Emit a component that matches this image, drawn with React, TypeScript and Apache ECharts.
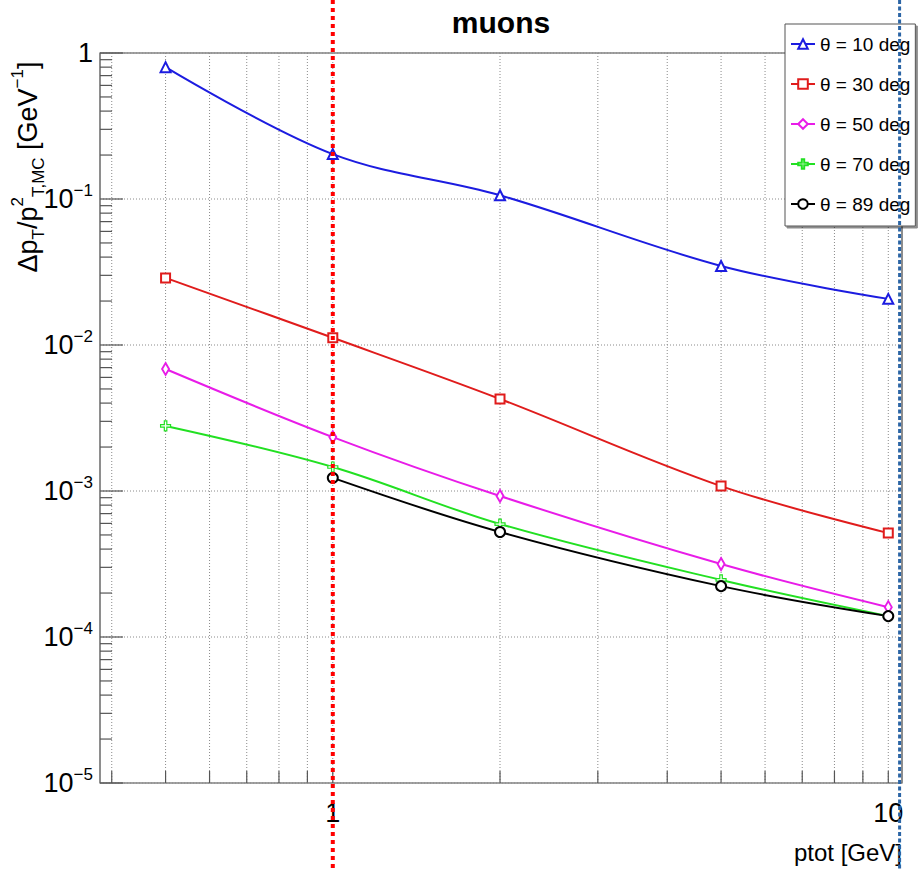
import React, { useEffect, useRef } from 'react';
import * as echarts from 'echarts';

// ---- data ----
const X_VALUES = [0.5, 1, 2, 5, 10];
const SERIES_NAMES = ['θ = 10 deg', 'θ = 30 deg', 'θ = 50 deg', 'θ = 70 deg', 'θ = 89 deg'];
const THETA10 = [0.8, 0.203, 0.106, 0.0348, 0.0207];
const THETA30 = [0.0288, 0.0112, 0.00427, 0.00108, 0.000515];
const THETA50 = [0.00685, 0.00234, 0.000924, 0.000316, 0.00016];
const THETA70 = [0.00279, 0.00146, 0.000594, 0.000246, 0.000139];
const THETA89 = [null, 0.00123, 0.000524, 0.000223, 0.000139];

const SERIES_COLORS = ['#1c1ce0', '#e01c1c', '#e81ce8', '#22e022', '#000000'];
const SERIES_SYMBOLS = [
  'emptyTriangle',
  'emptyRect',
  'emptyDiamond',
  'path://M3,0H5V3H8V5H5V8H3V5H0V3H3Z',
  'emptyCircle',
];
const SERIES_SYMBOL_SIZES: any[] = [10, 9, [7, 12], 10, 10];

// axes
const X_MIN = 0.381;
const X_MAX = 10.585;
const Y_MIN = 1e-5;
const Y_MAX = 1;
const X_TICKS = [0.4, 0.5, 0.6, 0.7, 0.8, 0.9, 1, 2, 3, 4, 5, 6, 7, 8, 9, 10];
const X_TICK_LABELS = ['1', '10'];
const Y_DECADES = [1e-5, 1e-4, 1e-3, 1e-2, 1e-1, 1];
const Y_MINOR_MULTIPLIERS = [2, 3, 4, 5, 6, 7, 8, 9];

// annotation marks (vertical dotted lines)
const RED_MARK_X = 1;
const BLUE_MARK_X = 10.48;

const FONT = "'Liberation Sans Narrow', 'Arial Narrow', 'Liberation Sans', Arial, sans-serif";

function pairs(ys: (number | null)[]) {
  const out: number[][] = [];
  ys.forEach((y, i) => {
    if (y !== null) out.push([X_VALUES[i], y]);
  });
  return out;
}

export default function App() {
  const ref = useRef<HTMLDivElement>(null);

  useEffect(() => {
    if (!ref.current) return;
    const chart = echarts.init(ref.current, null, { renderer: 'svg' });

    const allSeriesValues = [THETA10, THETA30, THETA50, THETA70, THETA89];
    const yTicks: number[] = [];
    Y_DECADES.forEach((d) => {
      yTicks.push(d);
      if (d < Y_MAX) Y_MINOR_MULTIPLIERS.forEach((m) => yTicks.push(d * m));
    });

    const lineSeries = allSeriesValues.map((vals, i) => {
      const c = SERIES_COLORS[i];
      const isPath = SERIES_SYMBOLS[i].startsWith('path://');
      return {
        name: SERIES_NAMES[i],
        type: 'line',
        data: pairs(vals),
        smooth: 0.35,
        symbol: SERIES_SYMBOLS[i],
        symbolSize: SERIES_SYMBOL_SIZES[i],
        showAllSymbol: true,
        lineStyle: { color: c, width: 2 },
        itemStyle: isPath
          ? { color: '#ffffff', borderColor: c, borderWidth: 1.2 }
          : { color: c, borderWidth: 1.2 },
        z: 5,
        silent: true,
      };
    });

    const xTickSeries = {
      type: 'custom',
      silent: true,
      z: 2,
      clip: false,
      data: X_TICKS.map((v) => [v, Y_MIN]),
      encode: { x: 0, y: 1 },
      renderItem: (params: any, api: any) => {
        const v = api.value(0);
        const b = api.coord([v, Y_MIN]);
        const t = api.coord([v, Y_MAX]);
        return {
          type: 'group',
          children: [
            {
              type: 'line',
              shape: { x1: b[0], y1: t[1], x2: b[0], y2: b[1] },
              style: { stroke: '#8a8a8a', lineWidth: 1, lineDash: [1, 2] },
            },
            {
              type: 'line',
              shape: { x1: b[0], y1: b[1], x2: b[0], y2: b[1] - 12 },
              style: { stroke: '#555', lineWidth: 1.2 },
            },
          ],
        };
      },
    };

    const yTickSeries = {
      type: 'custom',
      silent: true,
      z: 2,
      clip: false,
      data: yTicks.map((v) => [X_MIN, v]),
      encode: { x: 0, y: 1 },
      renderItem: (params: any, api: any) => {
        const v = api.value(1);
        const l = api.coord([X_MIN, v]);
        const r = api.coord([X_MAX, v]);
        const lg = Math.log10(v);
        const major = Math.abs(lg - Math.round(lg)) < 1e-6;
        const children: any[] = [];
        if (major) {
          children.push({
            type: 'line',
            shape: { x1: l[0], y1: l[1], x2: r[0], y2: r[1] },
            style: { stroke: '#8a8a8a', lineWidth: 1, lineDash: [1, 2] },
          });
        }
        children.push({
          type: 'line',
          shape: { x1: l[0], y1: l[1], x2: l[0] + (major ? 23 : 12), y2: l[1] },
          style: { stroke: '#555', lineWidth: 1.2 },
        });
        return { type: 'group', children };
      },
    };

    const option: any = {
      animation: false,
      backgroundColor: '#ffffff',
      grid: {
        left: 100,
        right: 20,
        top: 53,
        bottom: 86,
        show: true,
        borderColor: '#444',
        borderWidth: 1.2,
        backgroundColor: 'transparent',
      },
      legend: {
        orient: 'vertical',
        left: 785,
        top: 24,
        padding: [8, 5, 10, 5],
        itemGap: 16,
        itemWidth: 24,
        itemHeight: 12,
        backgroundColor: '#ffffff',
        borderColor: '#555',
        borderWidth: 1,
        shadowColor: 'rgba(0,0,0,0.45)',
        shadowOffsetX: 2,
        shadowOffsetY: 2,
        shadowBlur: 0,
        selectedMode: false,
        textStyle: { fontFamily: FONT, fontSize: 19, color: '#000', lineHeight: 24 },
        data: SERIES_NAMES,
      },
      xAxis: {
        type: 'log',
        logBase: 10,
        min: X_MIN,
        max: X_MAX,
        axisLine: { show: false },
        axisTick: { show: false },
        splitLine: { show: false },
        axisLabel: {
          margin: 16,
          fontFamily: FONT,
          fontSize: 27,
          color: '#000',
          showMinLabel: false,
          showMaxLabel: false,
          formatter: (v: number) => {
            const s = String(Math.round(v));
            return X_TICK_LABELS.includes(s) && Math.abs(v - Math.round(v)) < 1e-6 ? s : '';
          },
        },
      },
      yAxis: {
        type: 'log',
        logBase: 10,
        min: Y_MIN,
        max: Y_MAX,
        axisLine: { show: false },
        axisTick: { show: false },
        splitLine: { show: false },
        axisLabel: {
          margin: 7,
          fontFamily: FONT,
          color: '#000',
          formatter: (v: number) => {
            const k = Math.round(Math.log10(v));
            if (k === 0) return '{b|1}';
            return '{b|10}{s|' + (k < 0 ? '\u2212' + -k : String(k)) + '}';
          },
          rich: {
            b: { fontFamily: FONT, fontSize: 27, color: '#000', lineHeight: 34, verticalAlign: 'middle' },
            s: { fontFamily: FONT, fontSize: 17, color: '#000', lineHeight: 20, verticalAlign: 'top' },
          },
        },
      },
      series: [xTickSeries, yTickSeries, ...lineSeries],
    };

    chart.setOption(option);

    const redX = chart.convertToPixel({ xAxisIndex: 0 }, RED_MARK_X) as number;
    const blueX = chart.convertToPixel({ xAxisIndex: 0 }, BLUE_MARK_X) as number;

    chart.setOption({
      graphic: [
        {
          type: 'text',
          x: 501,
          y: 22,
          style: {
            text: 'muons',
            fontFamily: FONT,
            fontSize: 30,
            fontWeight: 'bold',
            fill: '#000',
            align: 'center',
            verticalAlign: 'middle',
          },
        },
        {
          type: 'text',
          x: 28,
          y: 167,
          rotation: Math.PI / 2,
          style: {
            text: '{n|\u0394p}{sub|T}{n|/p}{sup|2}{sub|T,MC}{n| [GeV}{sup|\u22121}{n|]}',
            fontFamily: FONT,
            fill: '#000',
            align: 'center',
            verticalAlign: 'middle',
            rich: {
              n: { fontFamily: FONT, fontSize: 27, fill: '#000', lineHeight: 38, verticalAlign: 'middle' },
              sub: { fontFamily: FONT, fontSize: 17, fill: '#000', lineHeight: 20, verticalAlign: 'bottom' },
              sup: { fontFamily: FONT, fontSize: 17, fill: '#000', lineHeight: 20, verticalAlign: 'top' },
            },
          },
        },
        {
          type: 'text',
          x: 902,
          y: 852,
          style: {
            text: 'ptot [GeV]',
            fontFamily: FONT,
            fontSize: 24,
            fill: '#000',
            align: 'right',
            verticalAlign: 'middle',
          },
        },
        {
          type: 'line',
          z: 100,
          shape: { x1: redX, y1: 0, x2: redX, y2: 869 },
          style: { stroke: '#ff0000', lineWidth: 4, lineDash: [4, 4] },
        },
        {
          type: 'line',
          z: 100,
          shape: { x1: blueX, y1: 0, x2: blueX, y2: 869 },
          style: { stroke: '#2b65a5', lineWidth: 3, lineDash: [4, 2.5] },
        },
      ],
    });

    return () => {
      chart.dispose();
    };
  }, []);

  return (
    <div
      ref={ref}
      style={{ position: 'fixed', left: 0, top: 0, width: 922, height: 869 }}
    />
  );
}
